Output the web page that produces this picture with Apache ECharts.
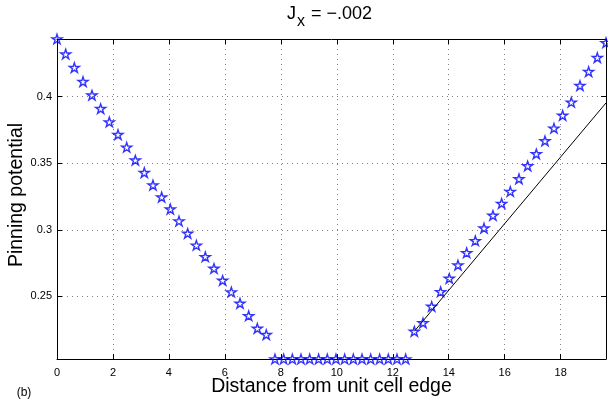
<!DOCTYPE html>
<html>
<head>
<meta charset="utf-8">
<script src="https://cdn.jsdelivr.net/npm/echarts@6/dist/echarts.min.js"></script>
<style>
  html, body { margin: 0; padding: 0; background: #fff; }
  #chart { width: 608px; height: 406px; }
</style>
</head>
<body>
<div id="chart"></div>
<script>
// Sample positions across the unit cell
const distance = [
  0, 0.31, 0.62, 0.93, 1.25, 1.56, 1.87, 2.18, 2.49, 2.80,
  3.12, 3.43, 3.74, 4.05, 4.36, 4.67, 4.98, 5.30, 5.61, 5.92,
  6.23, 6.54, 6.85, 7.16, 7.48, 7.79, 8.10, 8.41, 8.72, 9.03,
  9.35, 9.66, 9.97, 10.28, 10.59, 10.90, 11.21, 11.53, 11.84, 12.15,
  12.46, 12.77, 13.08, 13.39, 13.71, 14.02, 14.33, 14.64, 14.95, 15.26,
  15.58, 15.89, 16.20, 16.51, 16.82, 17.13, 17.44, 17.76, 18.07, 18.38,
  18.69, 19.00, 19.31, 19.62
];
// Pinning potential at each position
const potential = [
  0.4433, 0.4320, 0.4218, 0.4113, 0.4011, 0.3910, 0.3810, 0.3715, 0.3620, 0.3523,
  0.3430, 0.3336, 0.3246, 0.3156, 0.3066, 0.2973, 0.2884, 0.2798, 0.2710, 0.2620,
  0.2533, 0.2448, 0.2355, 0.2260, 0.2213, 0.203, 0.203, 0.203, 0.203, 0.203,
  0.203, 0.203, 0.203, 0.203, 0.203, 0.203, 0.203, 0.203, 0.203, 0.203,
  0.203, 0.2238, 0.2301, 0.2425, 0.2535, 0.2635, 0.2735, 0.2828, 0.2918, 0.3013,
  0.3108, 0.3198, 0.3288, 0.3383, 0.3480, 0.3570, 0.3668, 0.3763, 0.3860, 0.3958,
  0.4083, 0.4188, 0.4293, 0.4405
];
// Straight reference line on the rising side
const refX = [12.77, 19.62];
const refY = [0.2238, 0.3953];

const xTicks = [0, 2, 4, 6, 8, 10, 12, 14, 16, 18];
const yTicks = [0.25, 0.3, 0.35, 0.4];
const xRange = [0, 19.62];
const yRange = [0.203, 0.4433];

const FONT = '"Liberation Sans", Arial, Helvetica, sans-serif';
const STAR = 'path://M100 0 L122.45 69.1 L195.1 69.1 L136.3 111.8 L158.8 180.9 L100 138.2 L41.2 180.9 L63.7 111.8 L4.9 69.1 L77.55 69.1 Z';

const chart = echarts.init(document.getElementById('chart'), null, { renderer: 'canvas' });

const tickStyle = { inside: true, length: 5, lineStyle: { color: '#000', width: 1 } };
const gridLine = { show: true, lineStyle: { color: '#808080', width: 1, type: [1, 4] } };

chart.setOption({
  animation: false,
  backgroundColor: '#fff',
  grid: { left: 57, right: 2, top: 39, bottom: 47, containLabel: false },
  xAxis: [
    {
      type: 'value', min: xRange[0], max: xRange[1], position: 'bottom',
      axisLine: { show: true, onZero: false, lineStyle: { color: '#000', width: 1 } },
      axisTick: Object.assign({ customValues: xTicks }, tickStyle),
      axisLabel: { customValues: xTicks, color: '#000', fontFamily: FONT, fontSize: 11, margin: 8 },
      splitLine: gridLine
    },
    {
      type: 'value', min: xRange[0], max: xRange[1], position: 'top',
      axisLine: { show: true, onZero: false, lineStyle: { color: '#000', width: 1 } },
      axisTick: Object.assign({ customValues: xTicks }, tickStyle),
      axisLabel: { show: false },
      splitLine: { show: false }
    }
  ],
  yAxis: [
    {
      type: 'value', min: yRange[0], max: yRange[1], position: 'left',
      axisLine: { show: true, onZero: false, lineStyle: { color: '#000', width: 1 } },
      axisTick: Object.assign({ customValues: yTicks }, tickStyle),
      axisLabel: { customValues: yTicks, color: '#000', fontFamily: FONT, fontSize: 11, margin: 5 },
      splitLine: gridLine
    },
    {
      type: 'value', min: yRange[0], max: yRange[1], position: 'right',
      axisLine: { show: true, onZero: false, lineStyle: { color: '#000', width: 1 } },
      axisTick: Object.assign({ customValues: yTicks }, tickStyle),
      axisLabel: { show: false },
      splitLine: { show: false }
    }
  ],
  series: [
    {
      type: 'line',
      data: refX.map((x, i) => [x, refY[i]]),
      symbol: 'none',
      lineStyle: { color: '#000', width: 1 },
      z: 5
    },
    {
      type: 'scatter',
      data: distance.map((x, i) => [x, potential[i]]),
      symbol: STAR,
      symbolKeepAspect: true,
      symbolSize: 10,
      clip: false,
      itemStyle: { color: 'rgba(0,0,0,0)', borderColor: '#0000ff', borderWidth: 1.4 },
      z: 10
    }
  ],
  graphic: [
    { type: 'text', left: 287, top: 5, style: { text: 'J', font: '18px ' + FONT, fill: '#000' } },
    { type: 'text', left: 297, top: 14, style: { text: 'x', font: '16px ' + FONT, fill: '#000' } },
    { type: 'text', left: 306, top: 5, style: { text: ' = \u2212.002', font: '18px ' + FONT, fill: '#000' } },
    { type: 'text', x: 331.5, y: 387, style: { text: 'Distance from unit cell edge', font: '19.5px ' + FONT, fill: '#000', align: 'center', verticalAlign: 'middle' } },
    { type: 'text', x: 17, y: 195, rotation: Math.PI / 2, style: { text: 'Pinning potential', font: '19.5px ' + FONT, fill: '#000', align: 'center', verticalAlign: 'middle' } },
    { type: 'text', x: 24, y: 393, style: { text: '(b)', font: '12px ' + FONT, fill: '#000', align: 'center', verticalAlign: 'middle' } }
  ]
});
</script>
</body>
</html>
